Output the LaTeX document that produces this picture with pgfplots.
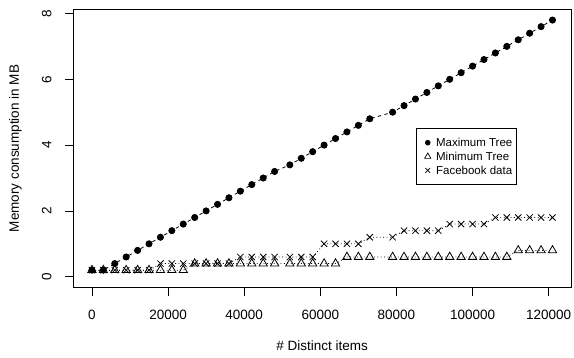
\documentclass[border=0pt]{standalone}
\usepackage{fontspec}
\setmainfont{Liberation Sans}
\usepackage{pgfplots}
\usepackage{pgfplotstable}
\pgfplotsset{compat=1.18}
\pgfplotstableread{
x      max  min  fb
0      0.2  0.2  0.2
3000   0.2  0.2  0.2
6000   0.4  0.2  0.2
9000   0.6  0.2  0.2
12000  0.8  0.2  0.2
15000  1.0  0.2  0.2
18000  1.2  0.2  0.4
21000  1.4  0.2  0.4
24000  1.6  0.2  0.4
27000  1.8  0.4  0.4
30000  2.0  0.4  0.4
33000  2.2  0.4  0.4
36000  2.4  0.4  0.4
39000  2.6  0.4  0.6
42000  2.8  0.4  0.6
45000  3.0  0.4  0.6
48000  3.2  0.4  0.6
52000  3.4  0.4  0.6
55000  3.6  0.4  0.6
58000  3.8  0.4  0.6
61000  4.0  0.4  1.0
64000  4.2  0.4  1.0
67000  4.4  0.6  1.0
70000  4.6  0.6  1.0
73000  4.8  0.6  1.2
79000  5.0  0.6  1.2
82000  5.2  0.6  1.4
85000  5.4  0.6  1.4
88000  5.6  0.6  1.4
91000  5.8  0.6  1.4
94000  6.0  0.6  1.6
97000  6.2  0.6  1.6
100000 6.4  0.6  1.6
103000 6.6  0.6  1.6
106000 6.8  0.6  1.8
109000 7.0  0.6  1.8
112000 7.2  0.8  1.8
115000 7.4  0.8  1.8
118000 7.6  0.8  1.8
121000 7.8  0.8  1.8
}\datatable
\begin{document}
\begin{tikzpicture}
\begin{axis}[
  at={(73.5bp,71bp)}, anchor=south west,
  scale only axis, width=497.4bp, height=277.2bp,
  xmin=-4840, xmax=125840, ymin=-0.312, ymax=8.112,
  xtick={0,20000,40000,60000,80000,100000,120000},
  ytick={0,2,4,6,8},
  scaled x ticks=false,
  /pgf/number format/fixed,
  /pgf/number format/precision=0,
  /pgf/number format/1000 sep={},
  /pgf/number format/assume math mode=true,
  tick align=outside, tick pos=left,
  major tick length=8.5bp,
  axis line style={line width=0.8bp, black},
  every tick/.style={line width=0.8bp, black},
  font=\fontsize{13.5bp}{16bp}\selectfont,
  xticklabel style={anchor=center, yshift=-19bp},
  yticklabel style={xshift=-18.3bp, rotate=90, anchor=center},
  xlabel={\# Distinct items},
  ylabel={Memory consumption in MB},
  xlabel style={at={(axis description cs:0.5,-0.2128)}, anchor=center},
  ylabel style={at={(axis description cs:-0.1167,0.5)}, anchor=center, rotate=0},
  legend image code/.code={\path (-11.5bp,0bp) (4bp,0bp); \draw[#1] plot coordinates {(0bp,0bp)};},
  legend style={at={(axis description cs:0.6876,0.5725)}, anchor=north west,
    draw=black, line width=0.8bp, inner xsep=0bp, inner ysep=9.2bp,
    row sep=4.25bp, column sep=0bp,
    font=\fontsize{11.5bp}{14bp}\selectfont,
    nodes={inner xsep=4bp, inner ysep=0bp, text height=8.95bp, text depth=0.65bp},
    cells={anchor=west}},
]
\addplot[black, line width=0.8bp, dash pattern=on 0.85bp off 2.55bp,
  mark=triangle, mark size=4.8bp, mark options={solid, fill=white}, forget plot]
  table[x=x, y=min] {\datatable};
\addplot[black, line width=0.8bp, dash pattern=on 0.85bp off 2.55bp,
  mark=x, mark size=4.4bp, mark options={solid}, forget plot]
  table[x=x, y=fb] {\datatable};
\addplot[black, line width=0.8bp, dash pattern=on 3.4bp off 3.4bp,
  mark=*, mark size=3.1bp, mark options={solid}, forget plot]
  table[x=x, y=max] {\datatable};
\addlegendimage{black, line width=0.7bp, mark=*, mark size=2.4bp}
\addlegendentry{Maximum Tree}
\addlegendimage{black, line width=0.7bp, mark=triangle, mark size=3.6bp, mark options={fill=white}}
\addlegendentry{Minimum Tree}
\addlegendimage{black, line width=0.7bp, mark=x, mark size=3.4bp}
\addlegendentry{Facebook data}
\end{axis}
\pgfresetboundingbox
\useasboundingbox (0,0) rectangle (574bp,358bp);
\end{tikzpicture}
\end{document}
